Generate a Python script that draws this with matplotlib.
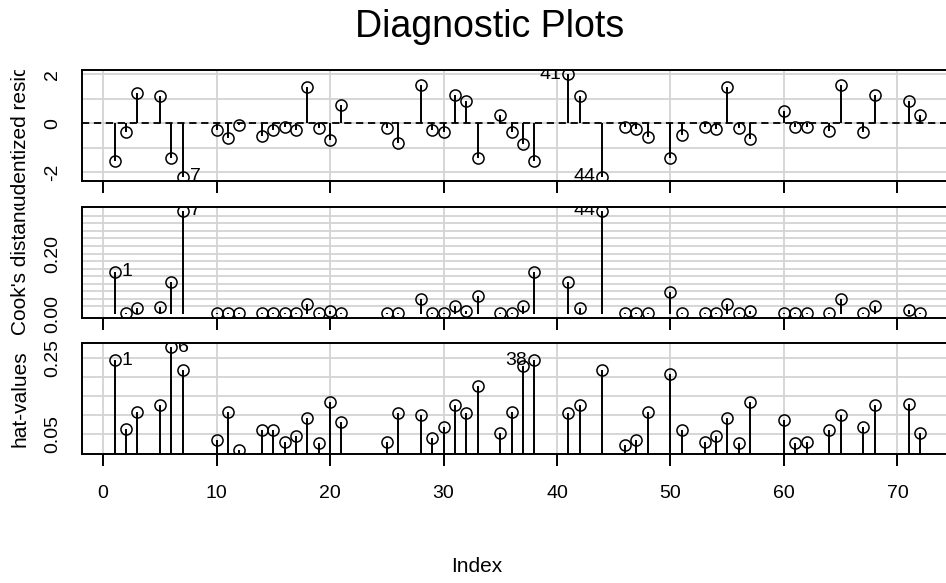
import numpy as np
import matplotlib
matplotlib.use('Agg')
import matplotlib.pyplot as plt
from matplotlib.transforms import Bbox, TransformedBbox

plt.rcParams['font.family'] = ['Liberation Sans', 'DejaVu Sans']

# observation numbers kept in the model
obs = [1, 2, 3, 5, 6, 7, 10, 11, 12, 14, 15, 16, 17, 18, 19, 20, 21, 25, 26,
       28, 29, 30, 31, 32, 33, 35, 36, 37, 38, 41, 42, 44, 46, 47, 48, 50, 51,
       53, 54, 55, 56, 57, 60, 61, 62, 64, 65, 67, 68, 71, 72]

rstudent = [-1.54, -0.34, 1.22, 1.09, -1.40, -2.18, -0.27, -0.59, -0.07, -0.52,
            -0.27, -0.14, -0.27, 1.48, -0.18, -0.68, 0.75, -0.18, -0.79, 1.56,
            -0.27, -0.38, 1.16, 0.91, -1.40, 0.34, -0.38, -0.86, -1.54, 2.00,
            1.09, -2.19, -0.14, -0.24, -0.56, -1.40, -0.48, -0.15, -0.24, 1.49,
            -0.18, -0.65, 0.50, -0.15, -0.15, -0.31, 1.56, -0.38, 1.16, 0.91,
            0.34]

cooks = [0.139, 0.002, 0.020, 0.022, 0.105, 0.342, 0.002, 0.002, 0.002, 0.002,
         0.002, 0.002, 0.002, 0.034, 0.002, 0.009, 0.002, 0.002, 0.003, 0.050,
         0.002, 0.002, 0.025, 0.009, 0.061, 0.002, 0.002, 0.028, 0.139, 0.105,
         0.020, 0.342, 0.002, 0.002, 0.002, 0.072, 0.002, 0.002, 0.002, 0.034,
         0.002, 0.009, 0.002, 0.002, 0.002, 0.002, 0.048, 0.002, 0.025, 0.014,
         0.002]

hatvals = [0.245, 0.063, 0.109, 0.126, 0.279, 0.219, 0.035, 0.109, 0.009, 0.061,
           0.061, 0.031, 0.046, 0.093, 0.027, 0.135, 0.083, 0.031, 0.105, 0.100,
           0.040, 0.068, 0.126, 0.105, 0.178, 0.053, 0.109, 0.230, 0.245, 0.105,
           0.126, 0.219, 0.022, 0.035, 0.109, 0.208, 0.061, 0.031, 0.046, 0.093,
           0.027, 0.135, 0.087, 0.027, 0.031, 0.061, 0.100, 0.068, 0.126, 0.130,
           0.053]

ylabels = ['Studentized residuals', "Cook's distance", 'hat-values']
yticks = [[-2, 0, 2], [0.0, 0.2], [0.05, 0.25]]
yticklabels = [['-2', '0', '2'], ['0.00', '0.20'], ['0.05', '0.25']]
ygrid = [np.arange(-2, 3, 1), np.arange(0.025, 0.35, 0.025), np.arange(0.05, 0.3, 0.05)]
# labelled points: obs -> side
marked = [{7: 'r', 41: 'l', 44: 'l'}, {1: 'r', 7: 'r', 44: 'l'}, {1: 'r', 6: 'r', 38: 'l'}]

W, H = 946, 583
fig = plt.figure(figsize=(W / 100, H / 100), dpi=100)

left = 82.3 / W
xlo = 1 - 0.04 * (max(obs) - 1)
xhi = max(obs) + 0.04 * (max(obs) - 1)
width = 870 / W
tops = [70, 206.5, 343]
ph = 111
regions = [(70, 206.5), (206.5, 343), (343, H)]

FS = 14
gray = '#d3d3d3'

for k, vals in enumerate([rstudent, cooks, hatvals]):
    ax = fig.add_axes([left, 1 - (tops[k] + ph) / H, width, ph / H])
    vals = np.array(vals)
    lo, hi = vals.min(), vals.max()
    r = hi - lo
    ax.set_xlim(xlo, xhi)
    ax.set_ylim(lo - 0.04 * r, hi + 0.04 * r)

    for g in ygrid[k]:
        ax.axhline(g, color=gray, lw=1.3, zorder=0)
    for g in range(0, 80, 10):
        ax.axvline(g, color=gray, lw=1.3, zorder=0)
    if k == 0:
        ax.axhline(0, color='k', lw=1.3, ls=(0, (4, 2.6)), zorder=1)

    ax.vlines(obs, 0, vals, color='k', lw=1.4, zorder=2)
    ax.plot(obs, vals, 'o', mfc='none', mec='k', ms=8, mew=1.1, zorder=3)

    for o, side in marked[k].items():
        v = vals[obs.index(o)]
        dx = 5 if side == 'r' else -5
        a = ax.annotate(str(o), (o, v), xytext=(dx, 0), textcoords='offset points',
                        ha='left' if side == 'r' else 'right', va='center',
                        fontsize=FS, color='k', annotation_clip=False)
        a.set_clip_box(ax.bbox)
        a.set_clip_on(True)

    ax.set_xticks(range(0, 80, 10))
    ax.set_yticks(yticks[k])
    ax.set_yticklabels(yticklabels[k], rotation=90, va='center')
    ax.tick_params(axis='y', length=0, pad=15, labelsize=FS)
    ax.tick_params(axis='x', direction='out', length=8.5, width=1.4, pad=14, labelsize=FS)
    if k < 2:
        ax.tick_params(axis='x', labelbottom=False)
    for s in ax.spines.values():
        s.set_linewidth(1.4)

    # y label, clipped to its own figure row like R does
    t = fig.text(20 / W, 1 - (tops[k] + ph / 2) / H, ylabels[k], rotation=90,
                 ha='center', va='center', fontsize=FS + 1)
    y0, y1 = regions[k]
    t.set_clip_box(TransformedBbox(Bbox([[0, 1 - y1 / H], [1, 1 - y0 / H]]), fig.transFigure))
    t.set_clip_on(True)

fig.text(477 / W, 1 - 567 / H, 'Index', ha='center', va='center', fontsize=FS + 1)
fig.text(490 / W, 1 - 27 / H, 'Diagnostic Plots', ha='center', va='center', fontsize=27)

fig.savefig('out.png', dpi=100)
